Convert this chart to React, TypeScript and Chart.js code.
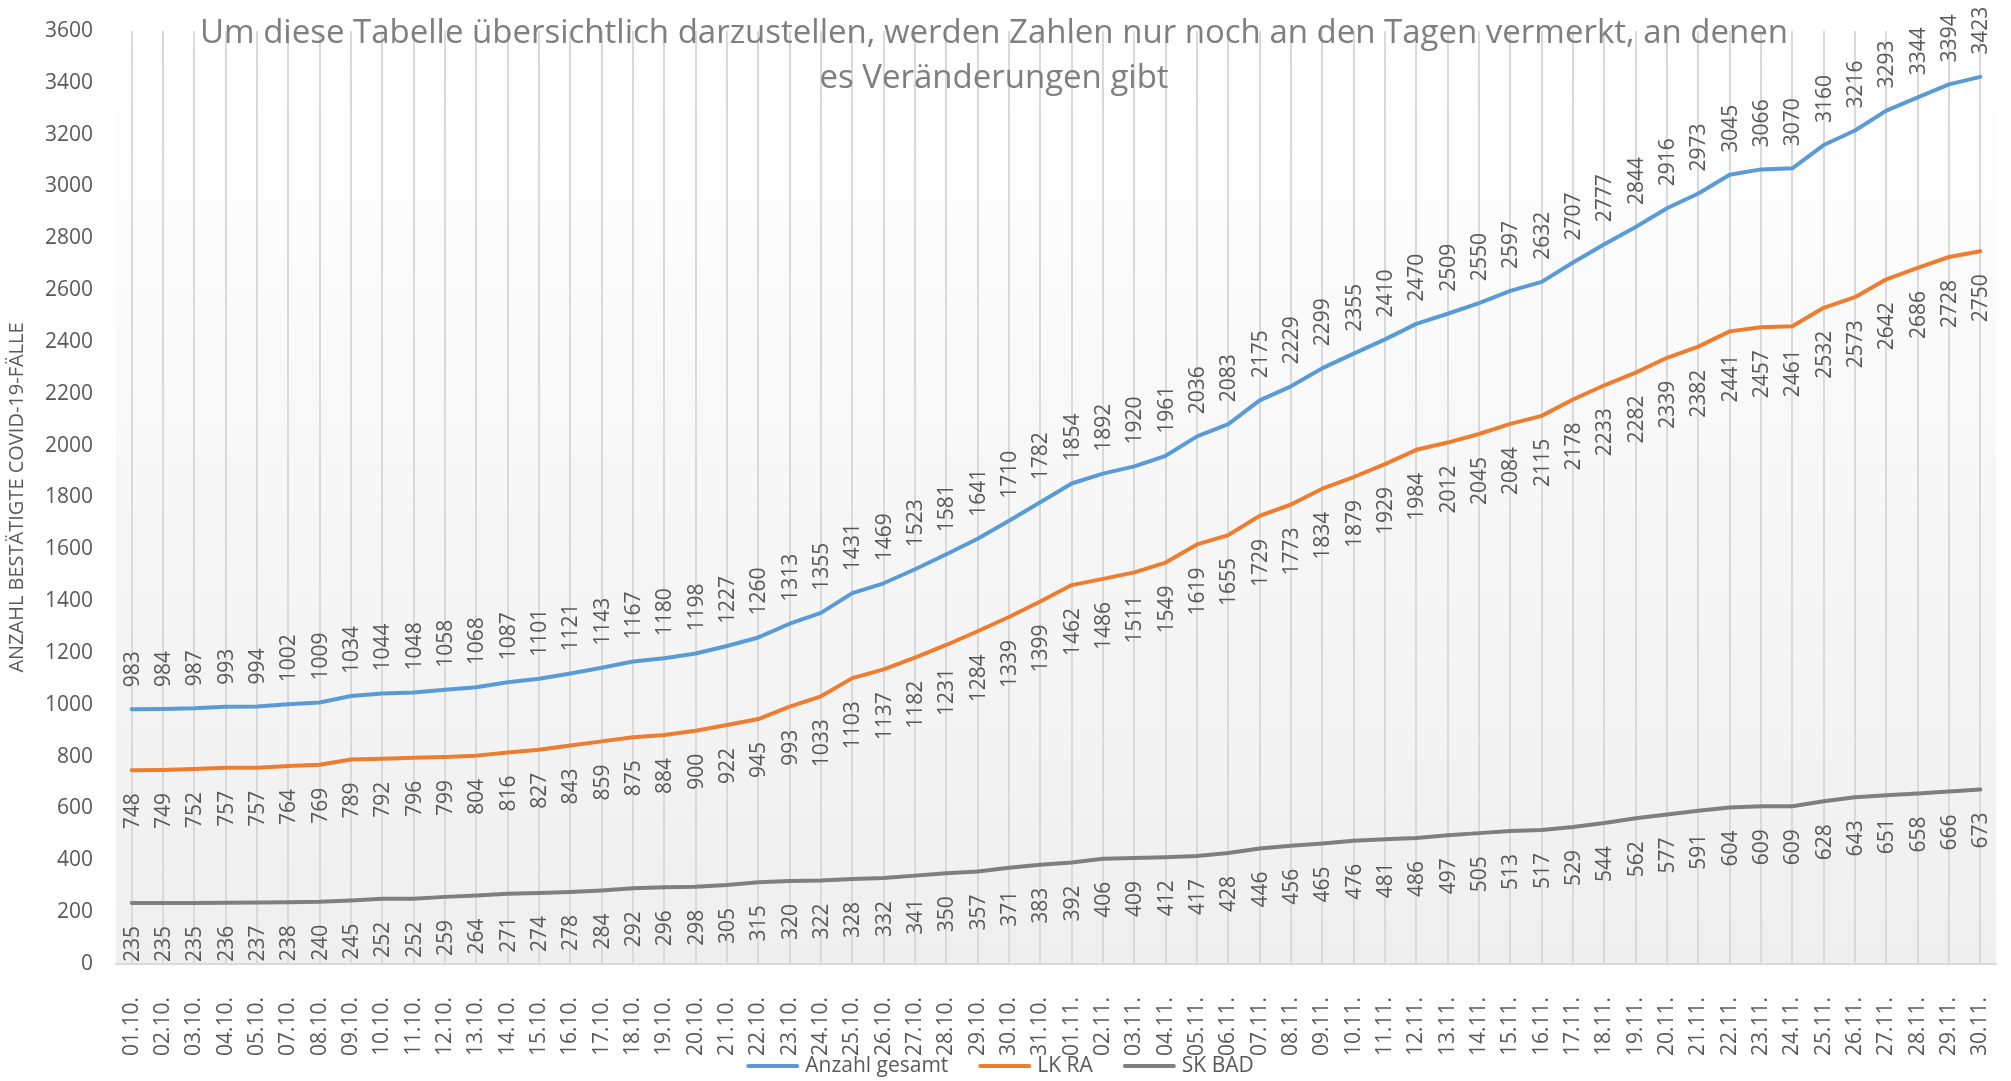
import React, { useEffect, useRef } from "react";
import { Chart, registerables } from "chart.js";

Chart.register(...registerables);

const categories = [
  "01.10.", "02.10.", "03.10.", "04.10.", "05.10.", "07.10.", "08.10.", "09.10.", "10.10.", "11.10.",
  "12.10.", "13.10.", "14.10.", "15.10.", "16.10.", "17.10.", "18.10.", "19.10.", "20.10.", "21.10.",
  "22.10.", "23.10.", "24.10.", "25.10.", "26.10.", "27.10.", "28.10.", "29.10.", "30.10.", "31.10.",
  "01.11.", "02.11.", "03.11.", "04.11.", "05.11.", "06.11.", "07.11.", "08.11.", "09.11.", "10.11.",
  "11.11.", "12.11.", "13.11.", "14.11.", "15.11.", "16.11.", "17.11.", "18.11.", "19.11.", "20.11.",
  "21.11.", "22.11.", "23.11.", "24.11.", "25.11.", "26.11.", "27.11.", "28.11.", "29.11.", "30.11.",
];

const anzahlGesamt = [
  983, 984, 987, 993, 994, 1002, 1009, 1034, 1044, 1048,
  1058, 1068, 1087, 1101, 1121, 1143, 1167, 1180, 1198, 1227,
  1260, 1313, 1355, 1431, 1469, 1523, 1581, 1641, 1710, 1782,
  1854, 1892, 1920, 1961, 2036, 2083, 2175, 2229, 2299, 2355,
  2410, 2470, 2509, 2550, 2597, 2632, 2707, 2777, 2844, 2916,
  2973, 3045, 3066, 3070, 3160, 3216, 3293, 3344, 3394, 3423,
];

const lkRa = [
  748, 749, 752, 757, 757, 764, 769, 789, 792, 796,
  799, 804, 816, 827, 843, 859, 875, 884, 900, 922,
  945, 993, 1033, 1103, 1137, 1182, 1231, 1284, 1339, 1399,
  1462, 1486, 1511, 1549, 1619, 1655, 1729, 1773, 1834, 1879,
  1929, 1984, 2012, 2045, 2084, 2115, 2178, 2233, 2282, 2339,
  2382, 2441, 2457, 2461, 2532, 2573, 2642, 2686, 2728, 2750,
];

const skBad = [
  235, 235, 235, 236, 237, 238, 240, 245, 252, 252,
  259, 264, 271, 274, 278, 284, 292, 296, 298, 305,
  315, 320, 322, 328, 332, 341, 350, 357, 371, 383,
  392, 406, 409, 412, 417, 428, 446, 456, 465, 476,
  481, 486, 497, 505, 513, 517, 529, 544, 562, 577,
  591, 604, 609, 609, 628, 643, 651, 658, 666, 673,
];

const seriesNames = ["Anzahl gesamt", "LK RA", "SK BAD"];
const seriesColors = ["#5B9BD5", "#ED7D31", "#7F7F7F"];
const labelAbove = [true, false, false];

const titleLines = [
  "Um diese Tabelle übersichtlich darzustellen, werden Zahlen nur noch an den Tagen vermerkt, an denen",
  "es Veränderungen gibt",
];
const yAxisTitle = "ANZAHL BESTÄTIGTE COVID-19-FÄLLE";
const yMin = 0;
const yMax = 3600;
const yStep = 200;

const FONT = "'Open Sans', 'Noto Sans', sans-serif";
const TEXT_COLOR = "#595959";
const W = 2011;
const H = 1081;

const backgroundPlugin = {
  id: "bgGradient",
  beforeDraw(chart: any) {
    const { ctx, chartArea } = chart;
    ctx.save();
    ctx.fillStyle = "#ffffff";
    ctx.fillRect(0, 0, chart.width, chart.height);
    const g = ctx.createLinearGradient(0, chartArea.top, 0, chartArea.bottom);
    g.addColorStop(0, "#ffffff");
    g.addColorStop(1, "#efefef");
    ctx.fillStyle = g;
    ctx.fillRect(chartArea.left, chartArea.top, chartArea.right - chartArea.left, chartArea.bottom - chartArea.top);
    ctx.restore();
  },
};

const dataLabelPlugin = {
  id: "rotLabels",
  afterDatasetsDraw(chart: any) {
    const { ctx } = chart;
    ctx.save();
    ctx.font = `21px ${FONT}`;
    ctx.fillStyle = TEXT_COLOR;
    ctx.textBaseline = "middle";
    chart.data.datasets.forEach((ds: any, di: number) => {
      const meta = chart.getDatasetMeta(di);
      meta.data.forEach((pt: any, i: number) => {
        const txt = String(ds.data[i]);
        ctx.save();
        if (labelAbove[di]) {
          ctx.translate(pt.x, pt.y - 22);
          ctx.rotate(-Math.PI / 2);
          ctx.textAlign = "left";
        } else {
          ctx.translate(pt.x, pt.y + 23);
          ctx.rotate(-Math.PI / 2);
          ctx.textAlign = "right";
        }
        ctx.fillText(txt, 0, 1);
        ctx.restore();
      });
    });
    ctx.restore();
  },
};

const titlePlugin = {
  id: "overlayTitle",
  afterDraw(chart: any) {
    const { ctx } = chart;
    ctx.save();
    ctx.font = `33px ${FONT}`;
    ctx.fillStyle = "#7F7F7F";
    ctx.textAlign = "center";
    ctx.textBaseline = "alphabetic";
    const cx = 994;
    titleLines.forEach((line, i) => {
      ctx.fillText(line, cx, 43 + i * 45);
    });
    ctx.restore();
  },
};

const legendPlugin = {
  id: "bottomLegend",
  afterDraw(chart: any) {
    const { ctx } = chart;
    ctx.save();
    ctx.font = `21px ${FONT}`;
    const lineLen = 53;
    const gap = 6;
    const itemGap = 30;
    const widths = seriesNames.map((n) => ctx.measureText(n).width);
    const total = widths.reduce((a, b) => a + b, 0) + seriesNames.length * (lineLen + gap) + itemGap * (seriesNames.length - 1);
    let x = 1000 - total / 2;
    const y = 1066;
    seriesNames.forEach((name, i) => {
      ctx.strokeStyle = seriesColors[i];
      ctx.lineWidth = 4;
      ctx.lineCap = "round";
      ctx.beginPath();
      ctx.moveTo(x + 2, y);
      ctx.lineTo(x + lineLen - 2, y);
      ctx.stroke();
      x += lineLen + gap;
      ctx.fillStyle = TEXT_COLOR;
      ctx.textAlign = "left";
      ctx.textBaseline = "middle";
      ctx.fillText(name, x, y);
      x += widths[i] + itemGap;
    });
    ctx.restore();
  },
};

export default function App() {
  const ref = useRef<HTMLCanvasElement | null>(null);

  useEffect(() => {
    document.body.style.margin = "0";
    const canvas = ref.current;
    if (!canvas) return;
    const seriesData = [anzahlGesamt, lkRa, skBad];
    const chart = new Chart(canvas, {
      type: "line",
      data: {
        labels: categories,
        datasets: seriesData.map((d, i) => ({
          label: seriesNames[i],
          data: d,
          borderColor: seriesColors[i],
          backgroundColor: seriesColors[i],
          borderWidth: 4,
          pointRadius: 0,
          pointHoverRadius: 0,
          tension: 0,
          fill: false,
          borderCapStyle: "round" as const,
          borderJoinStyle: "round" as const,
        })),
      },
      options: {
        responsive: false,
        animation: false,
        devicePixelRatio: 1,
        layout: { padding: { top: 31, right: 15, bottom: 0, left: 0 } },
        plugins: {
          legend: { display: false },
          title: { display: false },
          tooltip: { enabled: false },
        },
        scales: {
          x: {
            type: "category",
            offset: true,
            grid: {
              display: true,
              offset: false,
              color: "#d9d9d9",
              lineWidth: 2,
              drawTicks: false,
            },
            border: { display: true, color: "#d9d9d9", width: 2 },
            ticks: {
              autoSkip: false,
              maxRotation: 90,
              minRotation: 90,
              padding: 33,
              color: TEXT_COLOR,
              font: { family: FONT, size: 21 },
            },
            afterFit(scale: any) {
              scale.height = 117;
              scale.paddingLeft = 0;
              scale.paddingRight = 0;
            },
          },
          y: {
            min: yMin,
            max: yMax,
            grid: { display: false, drawTicks: false },
            border: { display: false },
            ticks: {
              stepSize: yStep,
              padding: 23,
              color: TEXT_COLOR,
              font: { family: FONT, size: 21 },
              callback: (v: any) => String(v),
            },
            title: {
              display: true,
              text: yAxisTitle,
              color: TEXT_COLOR,
              font: { family: FONT, size: 20 },
              padding: { top: 5, bottom: 0 },
            },
            afterFit(scale: any) {
              scale.width = 116;
              scale.paddingTop = 0;
              scale.paddingBottom = 0;
            },
          },
        },
      },
      plugins: [backgroundPlugin, dataLabelPlugin, titlePlugin, legendPlugin],
    });
    return () => chart.destroy();
  }, []);

  return (
    <div style={{ width: W, height: H }}>
      <canvas ref={ref} width={W} height={H} style={{ display: "block", width: W, height: H }} />
    </div>
  );
}
